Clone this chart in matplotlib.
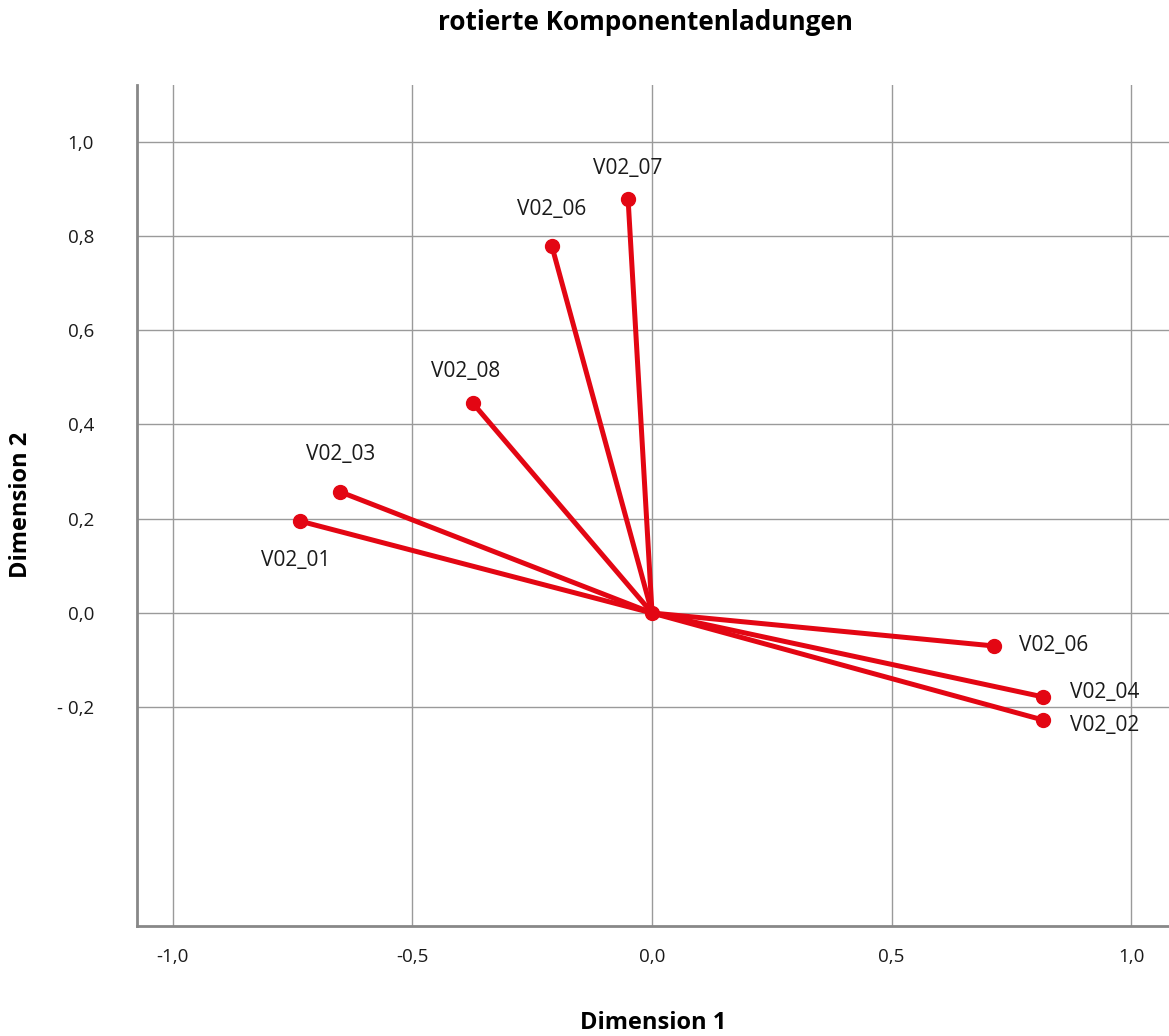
"""
rotierte Komponentenladungen - loading plot
"""
import matplotlib
matplotlib.use("Agg")
import matplotlib.pyplot as plt

plt.rcParams["font.family"] = ["Open Sans", "DejaVu Sans"]

variables = ["V02_07", "V02_06", "V02_08", "V02_03", "V02_01", "V02_06", "V02_04", "V02_02"]
dim1 = [-0.050, -0.209, -0.374, -0.651, -0.735, 0.714, 0.816, 0.816]
dim2 = [0.878, 0.778, 0.445, 0.257, 0.195, -0.070, -0.178, -0.227]

x_ticks = [-1.0, -0.5, 0.0, 0.5, 1.0]
x_ticklabels = ["-1,0", "-0,5", "0,0", "0,5", "1,0"]
y_ticks = [-0.2, 0.0, 0.2, 0.4, 0.6, 0.8, 1.0]
y_ticklabels = ["- 0,2", "0,0", "0,2", "0,4", "0,6", "0,8", "1,0"]

# label placement (offset in pixels, horizontal alignment)
label_pos = [((0, 31), "center"), ((0, 37), "center"), ((-7, 32), "center"),
             ((0, 37), "center"), ((-4, -39), "center"), ((25, 0), "left"),
             ((27, 4), "left"), ((27, -6), "left")]

RED = "#E30613"

fig = plt.figure(figsize=(11.69, 10.36), dpi=100)
ax = fig.add_axes([137 / 1169, 1 - 926 / 1036, 1 - 137 / 1169, (926 - 85) / 1036])

for v, x, y, ((dx, dy), ha) in zip(variables, dim1, dim2, label_pos):
    ax.plot([0, x], [0, y], color=RED, linewidth=3.6, solid_capstyle="round", zorder=3)
    ax.plot([x], [y], "o", color=RED, markersize=10, zorder=4)
    ax.annotate(v, (x, y), xytext=(dx * 0.72, dy * 0.72), textcoords="offset points",
                ha=ha, va="center", fontsize=15, color="#1a1a1a", zorder=1)
ax.plot([0], [0], "o", color=RED, markersize=10, zorder=4)

ax.set_xlim(-1.075, 1.079)
ax.set_ylim(-0.664, 1.12)
ax.set_xticks(x_ticks)
ax.set_xticklabels(x_ticklabels)
ax.set_yticks(y_ticks)
ax.set_yticklabels(y_ticklabels)
ax.tick_params(axis="both", length=0, labelsize=13.5, colors="#1a1a1a")
ax.tick_params(axis="x", pad=16)
ax.tick_params(axis="y", pad=31)
ax.grid(True, color="#9a9a9a", linewidth=1)
ax.set_axisbelow(True)

for s in ["top", "right"]:
    ax.spines[s].set_visible(False)
for s in ["left", "bottom"]:
    ax.spines[s].set_color("#888888")
    ax.spines[s].set_linewidth(2)

fig.text(645 / 1169, 1 - 23 / 1036, "rotierte Komponentenladungen", ha="center", va="center",
         fontsize=18.8, fontweight="bold")
fig.text(653 / 1169, 1 - 1023 / 1036, "Dimension 1", ha="center", va="center",
         fontsize=17, fontweight="bold")
fig.text(21 / 1169, 1 - 505 / 1036, "Dimension 2", ha="center", va="center",
         fontsize=17, fontweight="bold", rotation=90)

fig.savefig("out.png", dpi=100)
